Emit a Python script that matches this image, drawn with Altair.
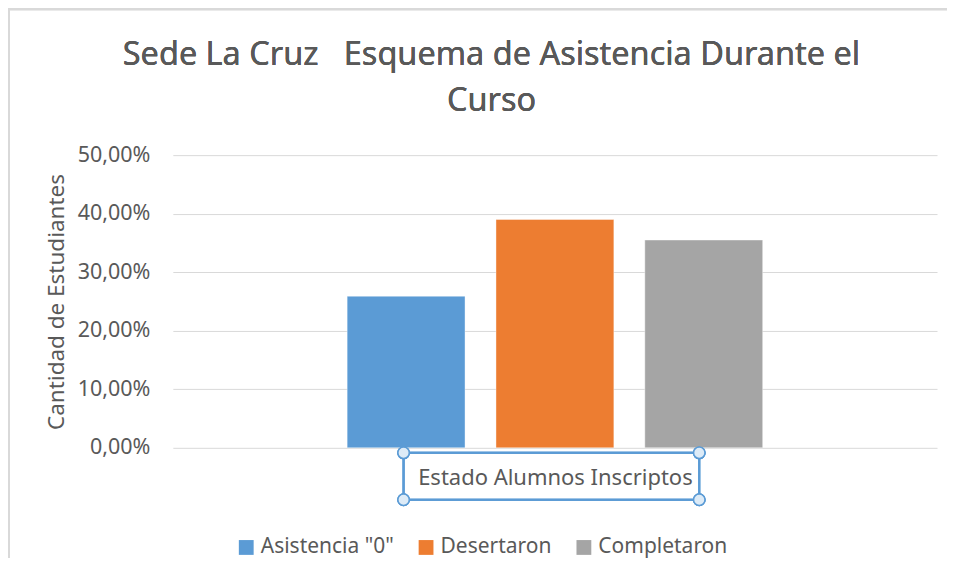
import altair as alt
import pandas as pd

categories = ['Asistencia "0"', "Desertaron", "Completaron"]
values = [0.259, 0.390, 0.355]
colors = ["#5B9BD5", "#ED7D31", "#A5A5A5"]
y_ticks = [0.0, 0.1, 0.2, 0.3, 0.4, 0.5]
title_lines = ["Sede La Cruz\u00a0\u00a0\u00a0Esquema de Asistencia Durante el", "Curso"]

df = pd.DataFrame({"estado": categories, "valor": values})

FONT = "Noto Sans"
TXT = "#595959"

base = alt.Chart(df).transform_calculate(grupo="'Estado'")

bars = base.mark_bar(stroke="white", strokeOpacity=0.4, strokeWidth=1).encode(
    x=alt.X(
        "grupo:N",
        scale=alt.Scale(paddingInner=0, paddingOuter=0.4195),
        axis=alt.Axis(
            labels=False, ticks=False, domain=False, grid=False,
            title="Estado Alumnos Inscriptos", titleFont=FONT, titleFontSize=22,
            titleFontWeight="normal", titleColor=TXT, titlePadding=20,
        ),
    ),
    xOffset=alt.XOffset(
        "estado:N", sort=categories,
        scale=alt.Scale(paddingInner=0.208, paddingOuter=0),
    ),
    y=alt.Y(
        "valor:Q",
        scale=alt.Scale(domain=[0, 0.5], nice=False),
        axis=alt.Axis(
            values=y_ticks,
            labelExpr="replace(format(datum.value, '.2%'), '.', ',')",
            labelFont=FONT, labelFontSize=21.5, labelColor=TXT, labelPadding=23,
            ticks=False, domain=False, grid=True, gridColor="#D9D9D9", gridWidth=1,
            title="Cantidad de Estudiantes", titleFont=FONT, titleFontSize=22.5,
            titleFontWeight="normal", titleColor=TXT, titlePadding=9,
        ),
    ),
    color=alt.Color(
        "estado:N",
        sort=categories,
        scale=alt.Scale(domain=categories, range=colors),
        legend=alt.Legend(
            title=None, orient="none", legendX=63, legendY=382, direction="horizontal",
            symbolType="square", symbolSize=220, symbolStrokeWidth=0,
            labelFont=FONT, labelFontSize=21, labelColor=TXT, labelOffset=4,
            columnPadding=21,
        ),
    ),
)

BLUE = "#5B9BD5"
box = alt.Chart(df).mark_rect(fill=None, stroke=BLUE, strokeWidth=2).encode(
    x=alt.value(231), x2=alt.value(527), y=alt.value(298), y2=alt.value(345)
)

handles = []
for hx, hy in [(231, 298), (527, 298), (231, 345), (527, 345)]:
    handles.append(
        alt.Chart(df).mark_point(
            shape="circle", filled=True, fill="#DDEBF7", stroke=BLUE, strokeWidth=1.5,
            size=130, opacity=1,
        ).encode(x=alt.value(hx), y=alt.value(hy))
    )

titles = []
for line, ty in zip(title_lines, [-100, -54]):
    titles.append(
        alt.Chart(df).mark_text(
            text=line, font=FONT, fontSize=32.5, fontWeight="normal", color=TXT,
            align="center", baseline="middle",
        ).encode(x=alt.value(319), y=alt.value(ty))
    )

border_top = alt.Chart(df).mark_rule(color="#D9D9D9", strokeWidth=2).encode(
    x=alt.value(-165), x2=alt.value(780), y=alt.value(-146)
)
border_left = alt.Chart(df).mark_rule(color="#D9D9D9", strokeWidth=2).encode(
    x=alt.value(-164), y=alt.value(-146), y2=alt.value(430)
)

chart = alt.layer(bars, box, *handles, *titles, border_top, border_left).properties(
    width=765,
    height=293,
    autosize=alt.AutoSizeParams(type="none"),
    padding={"left": 165, "top": 147, "right": 10, "bottom": 110},
).configure_view(stroke=None)

chart.save("out.html", embed_options={"renderer": "svg", "actions": False})
